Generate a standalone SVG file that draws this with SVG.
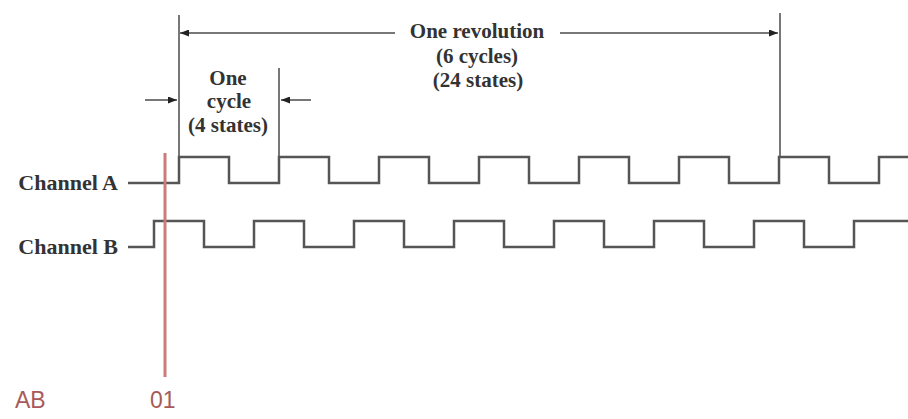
<svg xmlns="http://www.w3.org/2000/svg" width="908" height="419" viewBox="0 0 908 419">
<style>
.wave{fill:none;stroke:#555;stroke-width:2.5}
.dim{fill:none;stroke:#777;stroke-width:2}
.t{font-family:"Liberation Serif","Times New Roman",serif;font-weight:bold;fill:#333;text-anchor:middle;font-size:21px}
.lab{font-family:"Liberation Serif","Times New Roman",serif;font-weight:bold;fill:#333;font-size:22px;text-anchor:end}
.red{font-family:"Liberation Sans",Arial,sans-serif;fill:#a85a5a;font-size:23px}
</style>
<defs>
<marker id="ah" markerUnits="userSpaceOnUse" markerWidth="9" markerHeight="7" refX="9" refY="3.5" orient="auto-start-reverse">
<path d="M0,0 L9,3.5 L0,7 z" fill="#222"/>
</marker>
</defs>
<rect width="908" height="419" fill="#fff"/>
<g id="connectors">
<line class="dim" x1="179" y1="15" x2="179" y2="157"/>
<line class="dim" x1="279" y1="68" x2="279" y2="157"/>
<line class="dim" x1="780" y1="13" x2="780" y2="157"/>
<line class="dim" x1="395" y1="33" x2="180" y2="33" marker-end="url(#ah)"/>
<line class="dim" x1="560" y1="33" x2="778" y2="33" marker-end="url(#ah)"/>
<line class="dim" x1="145" y1="100" x2="177" y2="100" marker-end="url(#ah)"/>
<line class="dim" x1="311" y1="100" x2="281" y2="100" marker-end="url(#ah)"/>
</g>
<g id="revolution-label">
<text class="t" x="477" y="38">One revolution</text>
<text class="t" x="477" y="63">(6 cycles)</text>
<text class="t" x="478" y="87">(24 states)</text>
</g>
<g id="cycle-label">
<text class="t" x="228" y="85">One</text>
<text class="t" x="229" y="108">cycle</text>
<text class="t" x="228" y="132">(4 states)</text>
</g>
<g id="channel-a">
<text class="lab" x="118" y="190">Channel A</text>
<path class="wave" d="M128,183 H179 V157 H229 V183 H279 V157 H329 V183 H379 V157 H429 V183 H479 V157 H529 V183 H579 V157 H629 V183 H679 V157 H729 V183 H779 V157 H829 V183 H879 V157 H908"/>
</g>
<g id="channel-b">
<text class="lab" x="118" y="254">Channel B</text>
<path class="wave" d="M128,247 H154 V221 H204 V247 H254 V221 H304 V247 H354 V221 H404 V247 H454 V221 H504 V247 H554 V221 H604 V247 H654 V221 H704 V247 H754 V221 H804 V247 H854 V221 H908"/>
</g>
<g id="marker">
<line x1="165" y1="153" x2="165" y2="377" stroke="#cc7a7a" stroke-width="3"/>
<text class="red" x="15" y="408" font-size="25">AB</text>
<text class="red" x="150" y="408">01</text>
</g>
</svg>
